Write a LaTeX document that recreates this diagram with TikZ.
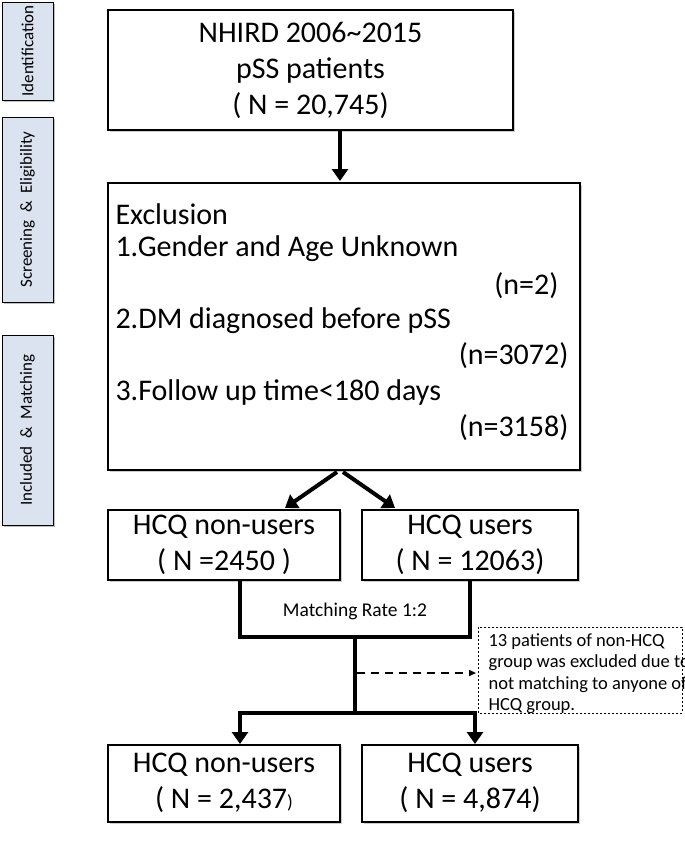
\documentclass[tikz,border=0pt]{standalone}
\usepackage{fontspec}
\setmainfont{Carlito}
\usetikzlibrary{arrows.meta,shadows}
\definecolor{sidefill}{HTML}{DCE3F0}
\begin{document}
\begin{tikzpicture}[x=1pt,y=-1pt,
  box/.style={draw,line width=1.2pt,fill=white,drop shadow={shadow xshift=2pt,shadow yshift=-2pt,opacity=0.4}},
  side/.style={draw,line width=0.8pt,fill=sidefill,drop shadow={shadow xshift=2pt,shadow yshift=-2pt,opacity=0.5}},
  thick arr/.style={line width=4pt,-{Triangle[length=12pt,width=16pt]}},
  txt/.style={font=\fontsize{30}{36}\selectfont},
  sidetxt/.style={rotate=90,font=\fontsize{17}{20}\selectfont},
]
\useasboundingbox (0,0) rectangle (685,841);
% side labels
\draw[side] (2,2) rectangle (53,100);
\node[sidetxt] (l1) at (27.5,51) {Identification};
\draw[side] (2,117) rectangle (53,302);
\node[sidetxt] (l2) at (27.5,209.5) {Screening \ \& \ Eligibility};
\draw[side] (2,335) rectangle (53,525);
\node[sidetxt] (l3) at (27.5,430) {Included \ \& \ Matching};
% boxes
\draw[box] (108,10) rectangle (513,130);
\node[txt,align=center] (top) at (310.5,70) {NHIRD 2006\textasciitilde2015\\pSS patients\\( N = 20,745)};
\draw[box] (108,183) rectangle (580,470);
\node[txt,anchor=west] (ex) at (112,214) {Exclusion};
\node[txt,anchor=west] at (112,249) {1.Gender and Age Unknown};
\node[txt,anchor=east] at (562,286) {(n=2)};
\node[txt,anchor=west] at (112,321) {2.DM diagnosed before pSS};
\node[txt,anchor=east] at (572,356) {(n=3072)};
\node[txt,anchor=west] at (112,392) {3.Follow up time<180 days};
\node[txt,anchor=east] at (572,428) {(n=3158)};
\draw[box] (108,510) rectangle (340,580);
\node[txt,align=center] (a) at (224,545) {HCQ non-users\\( N =2450 )};
\draw[box] (362,510) rectangle (578,580);
\node[txt,align=center] (b) at (470,545) {HCQ users\\( N = 12063)};
\draw[box] (108,745) rectangle (340,822);
\node[txt,align=center] (c) at (224,783) {HCQ non-users\\( N = 2,437{\fontsize{19}{19}\selectfont)}};
\draw[box] (362,745) rectangle (578,822);
\node[txt,align=center] (d) at (470,783) {HCQ users\\( N = 4,874)};
\draw[dash pattern=on 2pt off 2pt,line width=0.8pt] (478,627) rectangle (682,713);
\node[font=\fontsize{18.5}{21.5}\selectfont,align=left,anchor=north west] (note) at (485,630) {13 patients of non-HCQ\\group was excluded due to\\not matching to anyone of\\HCQ group.};
% connectors
\draw[thick arr] (340,130) -- (340,181);
\draw[thick arr] (337,472) -- (285,508);
\draw[thick arr] (343,472) -- (395,508);
\draw[line width=4pt,line join=miter] (240,580) -- (240,637) -- (470,637) -- (470,580);
\node[font=\fontsize{19.5}{23}\selectfont] (m) at (355,611) {Matching Rate 1:2};
\draw[line width=4pt] (355,637) -- (355,713);
\draw[line width=4pt] (238,713) -- (477,713);
\draw[thick arr] (240,711) -- (240,744);
\draw[thick arr] (475,711) -- (475,744);
\draw[dash pattern=on 8pt off 6pt,line width=1.5pt,-{Triangle[length=7pt,width=6pt]}] (357,673) -- (476,673);
\end{tikzpicture}
\end{document}
